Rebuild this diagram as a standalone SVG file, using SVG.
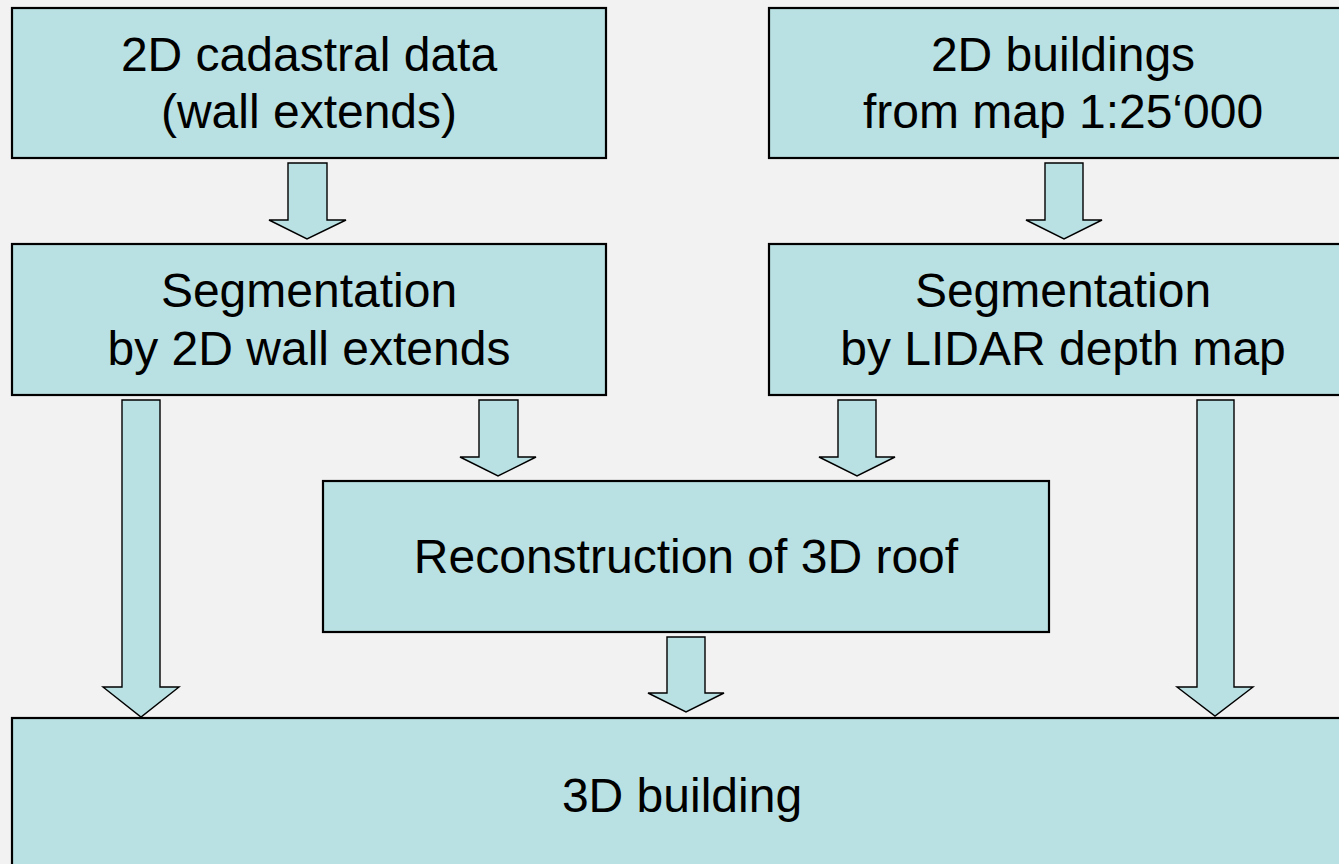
<svg xmlns="http://www.w3.org/2000/svg" width="1339" height="864" viewBox="0 0 1339 864">
<style>
.box{fill:#B9E0E3;stroke:#000;stroke-width:2.2}
.arr{fill:#B9E0E3;stroke:#000;stroke-width:1.4;stroke-linejoin:miter}
.t{font-family:"Liberation Sans",Arial,sans-serif;font-size:48px;fill:#000;text-anchor:middle}
</style>
<rect x="0" y="0" width="1339" height="864" fill="#F2F2F2"/>
<g id="connectors">
<polygon class="arr" points="288,163 327,163 327,220 346,220 307,239 269,220 288,220"/>
<polygon class="arr" points="1045,163 1083,163 1083,220 1102,220 1064,239 1026,220 1045,220"/>
<polygon class="arr" points="122,400 160,400 160,687 179,687 141,717 103,687 122,687"/>
<polygon class="arr" points="479,400 518,400 518,457 536,457 498,476 460,457 479,457"/>
<polygon class="arr" points="838,400 876,400 876,457 895,457 857,476 819,457 838,457"/>
<polygon class="arr" points="1197,400 1234,400 1234,687 1253,687 1215,716 1177,687 1197,687"/>
<polygon class="arr" points="667,637 705,637 705,693 724,693 686,712 648,693 667,693"/>
</g>
<g id="n1"><rect class="box" x="12" y="8" width="594" height="150"/><text class="t" x="309" y="71">2D cadastral data</text><text class="t" x="309" y="128">(wall extends)</text></g>
<g id="n2"><rect class="box" x="12" y="244" width="594" height="151"/><text class="t" x="309" y="307">Segmentation</text><text class="t" x="309" y="365">by 2D wall extends</text></g>
<g id="n3"><rect class="box" x="769" y="8" width="590" height="150"/><text class="t" x="1063" y="71">2D buildings</text><text class="t" x="1063" y="128">from map 1:25‘000</text></g>
<g id="n4"><rect class="box" x="769" y="244" width="590" height="151"/><text class="t" x="1063" y="307">Segmentation</text><text class="t" x="1063" y="365">by LIDAR depth map</text></g>
<g id="n5"><rect class="box" x="323" y="481" width="726" height="151"/><text class="t" x="686" y="573">Reconstruction of 3D roof</text></g>
<g id="n6"><rect class="box" x="12" y="718" width="1340" height="170"/><text class="t" x="682" y="812">3D building</text></g>
</svg>
